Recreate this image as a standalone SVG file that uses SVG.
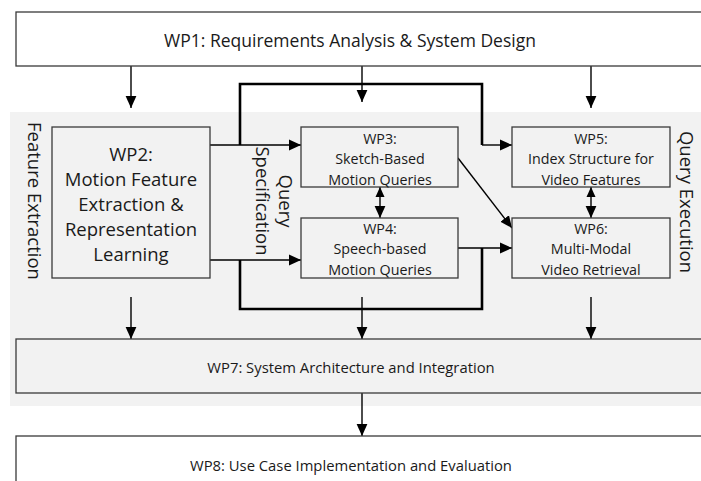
<svg xmlns="http://www.w3.org/2000/svg" width="701" height="481" viewBox="0 0 701 481">
<style>
.box{stroke:#3a3a3a;stroke-width:1.3}
.w{fill:#ffffff}
.g{fill:#f2f2f2}
text{font-family:"Open Sans","Liberation Sans",sans-serif;fill:#1a1a1a;text-anchor:middle;dominant-baseline:central}
.big{font-size:18.5px}
.top{font-size:17.5px}
.mid{font-size:14.8px}
.sm{font-size:14.3px}
.ln{stroke:#000;stroke-width:1.4;fill:none}
.bus{stroke:#000;stroke-width:2.6;fill:none}
</style>
<defs>
<marker id="ah" markerUnits="userSpaceOnUse" markerWidth="12" markerHeight="12" viewBox="0 0 10 10" refX="10" refY="5" orient="auto">
<path d="M0,0.5 L10,5 L0,9.5 z" fill="#000"/>
</marker>
<marker id="as" markerUnits="userSpaceOnUse" markerWidth="10" markerHeight="10" viewBox="0 0 10 10" refX="0" refY="5" orient="auto">
<path d="M10,0.5 L0,5 L10,9.5 z" fill="#000"/>
</marker>
</defs>
<rect x="10" y="112" width="700" height="294" fill="#f2f2f2"/>
<text class="big" transform="translate(35,201) rotate(90)">Feature Extraction</text>
<text class="big" transform="translate(687,202) rotate(90)">Query Execution</text>
<text class="big" transform="translate(286,201) rotate(90)">Query</text>
<text class="big" transform="translate(263,201) rotate(90)">Specification</text>
<g id="connectors">
<path class="ln" d="M131,66 V108" marker-end="url(#ah)"/>
<path class="ln" d="M362,66 V102" marker-end="url(#ah)"/>
<path class="ln" d="M591,66 V108" marker-end="url(#ah)"/>
<path class="bus" d="M240,145 V84 H482 V145"/>
<path class="ln" d="M482,145 H512" marker-end="url(#ah)"/>
<path class="ln" d="M210,145 H301" marker-end="url(#ah)"/>
<path class="ln" d="M210,260 H301" marker-end="url(#ah)"/>
<path class="bus" d="M240,260 V309 H482 V248"/>
<path class="ln" d="M458,248 H512" marker-end="url(#ah)"/>
<path class="ln" d="M458,158 L512,228" marker-end="url(#ah)"/>
<path class="ln" d="M380,187 V218" marker-start="url(#as)" marker-end="url(#ah)"/>
<path class="ln" d="M591,187 V218" marker-start="url(#as)" marker-end="url(#ah)"/>
<path class="ln" d="M131,297 V339" marker-end="url(#ah)"/>
<path class="ln" d="M362,297 V339" marker-end="url(#ah)"/>
<path class="ln" d="M591,297 V339" marker-end="url(#ah)"/>
<path class="ln" d="M362,393 V436" marker-end="url(#ah)"/>
</g>
<g id="wp1">
<rect class="box w" x="16" y="12" width="700" height="54"/>
<text class="top" x="350" y="40">WP1: Requirements Analysis &amp; System Design</text>
</g>
<g id="wp2">
<rect class="box g" x="52" y="127" width="158" height="151"/>
<text class="big" x="131" y="153">WP2:</text>
<text class="big" x="131" y="178">Motion Feature</text>
<text class="big" x="131" y="203">Extraction &amp;</text>
<text class="big" x="131" y="228">Representation</text>
<text class="big" x="131" y="253">Learning</text>
</g>
<g id="wp3">
<rect class="box g" x="301" y="127" width="157" height="60"/>
<text class="sm" x="380" y="138">WP3:</text>
<text class="sm" x="380" y="158">Sketch-Based</text>
<text class="sm" x="380" y="179">Motion Queries</text>
</g>
<g id="wp4">
<rect class="box g" x="301" y="218" width="157" height="60"/>
<text class="sm" x="380" y="228">WP4:</text>
<text class="sm" x="380" y="248">Speech-based</text>
<text class="sm" x="380" y="269">Motion Queries</text>
</g>
<g id="wp5">
<rect class="box g" x="512" y="127" width="158" height="60"/>
<text class="sm" x="591" y="138">WP5:</text>
<text class="sm" x="591" y="158">Index Structure for</text>
<text class="sm" x="591" y="179">Video Features</text>
</g>
<g id="wp6">
<rect class="box g" x="512" y="218" width="158" height="60"/>
<text class="sm" x="591" y="228">WP6:</text>
<text class="sm" x="591" y="248">Multi-Modal</text>
<text class="sm" x="591" y="269">Video Retrieval</text>
</g>
<g id="wp7">
<rect class="box g" x="16" y="339" width="700" height="54"/>
<text class="mid" x="351" y="367">WP7: System Architecture and Integration</text>
</g>
<g id="wp8">
<rect class="box w" x="16" y="436" width="700" height="60"/>
<text class="mid" x="351" y="465">WP8: Use Case Implementation and Evaluation</text>
</g>
</svg>
